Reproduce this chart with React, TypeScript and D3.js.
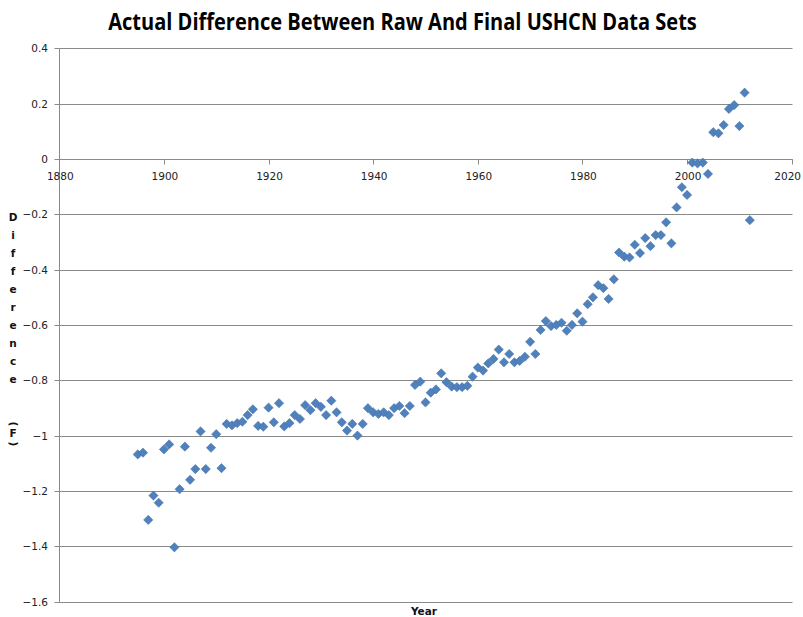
import React from "react";
import * as d3 from "d3";

const years = [
  1895, 1896, 1897, 1898, 1899, 1900, 1901, 1902, 1903, 1904, 1905, 1906, 1907, 1908, 1909,
  1910, 1911, 1912, 1913, 1914, 1915, 1916, 1917, 1918, 1919, 1920, 1921, 1922, 1923, 1924,
  1925, 1926, 1927, 1928, 1929, 1930, 1931, 1932, 1933, 1934, 1935, 1936, 1937, 1938, 1939,
  1940, 1941, 1942, 1943, 1944, 1945, 1946, 1947, 1948, 1949, 1950, 1951, 1952, 1953, 1954,
  1955, 1956, 1957, 1958, 1959, 1960, 1961, 1962, 1963, 1964, 1965, 1966, 1967, 1968, 1969,
  1970, 1971, 1972, 1973, 1974, 1975, 1976, 1977, 1978, 1979, 1980, 1981, 1982, 1983, 1984,
  1985, 1986, 1987, 1988, 1989, 1990, 1991, 1992, 1993, 1994, 1995, 1996, 1997, 1998, 1999,
  2000, 2001, 2002, 2003, 2004, 2005, 2006, 2007, 2008, 2009, 2010, 2011, 2012,
];

const difference = [
  -1.068, -1.062, -1.305, -1.217, -1.243, -1.05, -1.032, -1.404, -1.194, -1.04, -1.16, -1.121, -0.985, -1.121, -1.044,
  -0.995, -1.118, -0.958, -0.963, -0.955, -0.95, -0.926, -0.905, -0.965, -0.968, -0.899, -0.952, -0.883, -0.967, -0.955,
  -0.926, -0.94, -0.89, -0.908, -0.883, -0.896, -0.926, -0.874, -0.916, -0.952, -0.982, -0.958, -1.0, -0.958, -0.901,
  -0.916, -0.922, -0.916, -0.926, -0.901, -0.893, -0.919, -0.893, -0.817, -0.805, -0.88, -0.845, -0.833, -0.775, -0.807,
  -0.823, -0.825, -0.825, -0.82, -0.787, -0.754, -0.765, -0.739, -0.723, -0.689, -0.735, -0.705, -0.735, -0.73, -0.715,
  -0.661, -0.705, -0.618, -0.586, -0.604, -0.6, -0.592, -0.621, -0.6, -0.558, -0.588, -0.525, -0.5, -0.456, -0.467,
  -0.506, -0.435, -0.338, -0.353, -0.356, -0.31, -0.34, -0.286, -0.315, -0.275, -0.275, -0.229, -0.305, -0.175, -0.102,
  -0.13, -0.013, -0.016, -0.013, -0.054, 0.097, 0.093, 0.123, 0.181, 0.195, 0.119, 0.24, -0.221,
];

const xTicks = [1880, 1900, 1920, 1940, 1960, 1980, 2000, 2020];
const yTicks = [0.4, 0.2, 0, -0.2, -0.4, -0.6, -0.8, -1, -1.2, -1.4, -1.6];
const yLabelChars = ["D", "i", "f", "f", "e", "r", "e", "n", "c", "e"];

const title = "Actual Difference Between Raw And Final USHCN Data Sets";
const xTitle = "Year";

export default function App() {
  const W = 803;
  const H = 617;
  const x = d3.scaleLinear().domain([1880, 2020]).range([59.3, 791.7]);
  const y = d3.scaleLinear().domain([-1.6, 0.4]).range([601.5, 48.4]);
  const px = (v: number) => Math.round(v) + 0.5;
  const left = px(x(1880));
  const right = px(x(2020));
  const top = px(y(0.4));
  const bottom = px(y(-1.6));
  const zero = px(y(0));
  const r = 4.6;
  const diamond = `M0,${-r}L${r},0L0,${r}L${-r},0Z`;
  const fmt = (v: number) => (Math.abs(v) < 1e-9 ? "0" : d3.format("")(+v.toFixed(1)));
  const tickFont = "'DejaVu Sans', Verdana, sans-serif";

  return (
    <svg
      width={W}
      height={H}
      style={{ position: "absolute", left: 0, top: 0, background: "#fff" }}
    >
      <rect x={0} y={0} width={W} height={H} fill="#fff" />
      <g transform="translate(402.5,30) scale(0.835,1)">
        <text
          x={0}
          y={0}
          textAnchor="middle"
          fontFamily="'Open Sans', sans-serif"
          fontWeight="bold"
          fontSize={24}
          fill="#000"
        >
          {title}
        </text>
      </g>

      {/* gridlines */}
      {yTicks.map((t) => (
        <line key={"g" + t} x1={left} x2={right} y1={px(y(t))} y2={px(y(t))} stroke="#8a8a8a" strokeWidth={1} />
      ))}

      {/* y axis */}
      <line x1={left} x2={left} y1={top} y2={bottom} stroke="#8a8a8a" strokeWidth={1} />
      {yTicks.map((t) => (
        <g key={"y" + t}>
          <line x1={left - 5} x2={left} y1={px(y(t))} y2={px(y(t))} stroke="#8a8a8a" />
          <text
            x={48}
            y={y(t) + 4}
            textAnchor="end"
            fontFamily={tickFont}
            fontSize={10.5}
            fill="#222"
          >
            {fmt(t)}
          </text>
        </g>
      ))}

      {/* x axis at zero */}
      <line x1={left} x2={right} y1={zero} y2={zero} stroke="#8a8a8a" strokeWidth={1} />
      {xTicks.map((t, i) => {
        const last = i === xTicks.length - 1;
        return (
          <g key={"x" + t}>
            <line x1={px(x(t))} x2={px(x(t))} y1={zero} y2={zero + 5} stroke="#8a8a8a" />
            <text
              x={last ? 801 : x(t) + 1}
              y={zero + 20}
              textAnchor={last ? "end" : "middle"}
              fontFamily={tickFont}
              fontSize={10.5}
              fill="#222"
            >
              {t}
            </text>
          </g>
        );
      })}

      {/* points */}
      {years.map((yr, i) => (
        <path
          key={yr}
          d={diamond}
          transform={`translate(${x(yr)},${y(difference[i])})`}
          fill="#4F81BD"
          stroke="#4672a8"
          strokeWidth={0.6}
        />
      ))}

      {/* axis titles */}
      <text
        x={424}
        y={615}
        textAnchor="middle"
        fontFamily={tickFont}
        fontWeight="bold"
        fontSize={10.5}
        fill="#111"
      >
        {xTitle}
      </text>
      {yLabelChars.map((c, i) => (
        <text
          key={"yl" + i}
          x={13}
          y={221 + i * 18}
          textAnchor="middle"
          fontFamily={tickFont}
          fontWeight="bold"
          fontSize={10.5}
          fill="#111"
        >
          {c}
        </text>
      ))}
      <text x={13} y={424} textAnchor="middle" fontFamily={tickFont} fontWeight="bold" fontSize={10.5} fill="#111" transform="rotate(90 13 424)" dy={3.5}>
        (
      </text>
      <text x={13} y={437} textAnchor="middle" fontFamily={tickFont} fontWeight="bold" fontSize={10.5} fill="#111">
        F
      </text>
      <text x={13} y={444} textAnchor="middle" fontFamily={tickFont} fontWeight="bold" fontSize={10.5} fill="#111" transform="rotate(90 13 444)" dy={3.5}>
        )
      </text>
    </svg>
  );
}
